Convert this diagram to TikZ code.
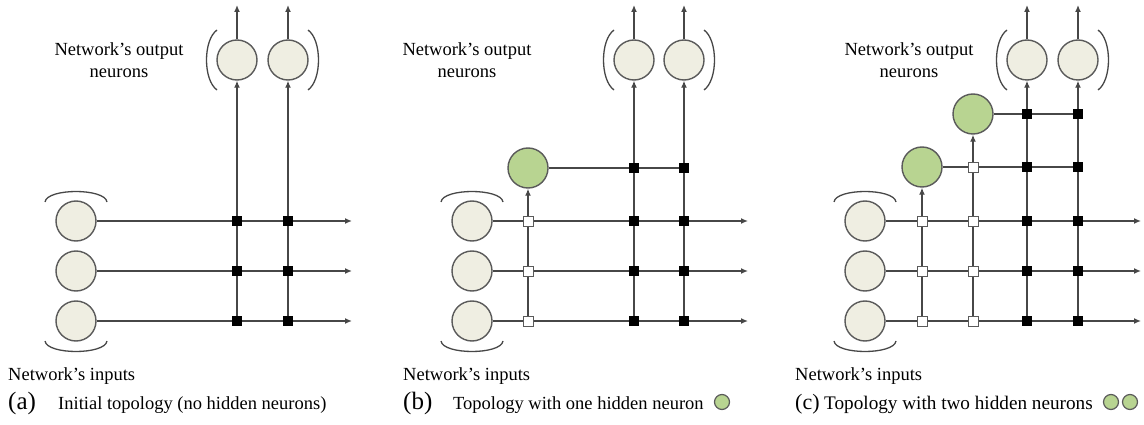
\documentclass[tikz,border=0pt]{standalone}
\usepackage{fontspec}
\setmainfont{Liberation Serif}
\usetikzlibrary{arrows.meta}
\pgfdeclarelayer{wires}
\pgfsetlayers{wires,main}

\definecolor{cream}{HTML}{EFEEE2}
\definecolor{leaf}{HTML}{B8D491}
\definecolor{rim}{HTML}{5A5A5A}
\definecolor{wire}{HTML}{474747}

\tikzset{
  x=1pt, y=-1pt,
  neuron/.style={circle, draw=rim, line width=1.4pt, fill=cream, minimum size=40pt, inner sep=0pt},
  hidden/.style={neuron, fill=leaf},
  minineuron/.style={circle, draw=rim, line width=1.2pt, fill=leaf, minimum size=15pt, inner sep=0pt},
  fixedw/.style={rectangle, fill=black, minimum size=10pt, inner sep=0pt},
  freew/.style={rectangle, draw=rim, line width=0.9pt, fill=white, minimum size=10pt, inner sep=0pt},
  link/.style={draw=wire, line width=1.3pt},
  flow/.style={link, -{Latex[length=7pt,width=6pt]}},
  brace/.style={draw=wire, line width=1.3pt},
  lbl/.style={font=\fontsize{18.5}{22}\selectfont, inner sep=0pt},
  tag/.style={font=\fontsize{25}{28}\selectfont, inner sep=0pt, anchor=base west},
}

\begin{document}
\begin{tikzpicture}
\useasboundingbox (0,0) rectangle (1144,425);

% ---------------- panel (a) ----------------
\begin{scope}[xshift=0pt]
  \node[neuron] (a-i1) at (76,221) {};
  \node[neuron] (a-i2) at (76,271) {};
  \node[neuron] (a-i3) at (76,321) {};
  \node[neuron] (a-o1) at (237,60) {};
  \node[neuron] (a-o2) at (288,60) {};
  \foreach \r/\y in {1/221,2/271,3/321}{
    \coordinate (a-e\r) at (352,\y);
    \node[fixedw] (a-j\r1) at (237,\y) {};
    \node[fixedw] (a-j\r2) at (288,\y) {};
  }
  \coordinate (a-t1) at (237,5);
  \coordinate (a-t2) at (288,5);
  \begin{pgfonlayer}{wires}
    \foreach \r in {1,2,3}{ \draw[flow] (a-i\r) -- (a-e\r); }
    \foreach \c in {1,2}{
      \draw[flow] (a-j3\c.center) -- (a-o\c);
      \draw[flow] (a-o\c) -- (a-t\c);
    }
  \end{pgfonlayer}
  % brackets
  \draw[brace] (45,202) .. controls (47,188) and (105,188) .. (107,202);
  \draw[brace] (45,341) .. controls (47,355) and (105,355) .. (107,341);
  \draw[brace] (217,30) .. controls (203,40) and (203,80) .. (217,90);
  \draw[brace] (308,30) .. controls (322,40) and (322,80) .. (308,90);
  % texts
  \node[lbl, align=center] (a-ol) at (119,60) {Network’s output\\neurons};
  \node[lbl, anchor=base west] (a-il) at (8,380) {Network’s inputs};
  \node[tag] (a-tag) at (8,409) {(a)};
  \node[lbl, anchor=base west] (a-cap) at (58,409) {Initial topology (no hidden neurons)};
\end{scope}

% ---------------- panel (b) ----------------
\begin{scope}[xshift=396pt]
  \node[neuron] (b-i1) at (76,221) {};
  \node[neuron] (b-i2) at (76,271) {};
  \node[neuron] (b-i3) at (76,321) {};
  \node[hidden] (b-h1) at (132,168) {};
  \node[neuron] (b-o1) at (238,60) {};
  \node[neuron] (b-o2) at (288,60) {};
  \foreach \r/\y in {1/221,2/271,3/321}{
    \coordinate (b-e\r) at (352,\y);
    \node[freew] (b-k\r) at (132,\y) {};
    \node[fixedw] (b-j\r1) at (238,\y) {};
    \node[fixedw] (b-j\r2) at (288,\y) {};
  }
  \node[fixedw] (b-jh1) at (238,168) {};
  \node[fixedw] (b-jh2) at (288,168) {};
  \coordinate (b-t1) at (238,5);
  \coordinate (b-t2) at (288,5);
  \begin{pgfonlayer}{wires}
    \foreach \r in {1,2,3}{ \draw[flow] (b-i\r) -- (b-e\r); }
    \draw[flow] (b-k3.center) -- (b-h1);
    \draw[link] (b-h1) -- (b-jh2.center);
    \foreach \c in {1,2}{
      \draw[flow] (b-j3\c.center) -- (b-o\c);
      \draw[flow] (b-o\c) -- (b-t\c);
    }
  \end{pgfonlayer}
  \draw[brace] (45,202) .. controls (47,188) and (105,188) .. (107,202);
  \draw[brace] (45,341) .. controls (47,355) and (105,355) .. (107,341);
  \draw[brace] (218,30) .. controls (204,40) and (204,80) .. (218,90);
  \draw[brace] (308,30) .. controls (322,40) and (322,80) .. (308,90);
  \node[lbl, align=center] (b-ol) at (71,60) {Network’s output\\neurons};
  \node[lbl, anchor=base west] (b-il) at (7,380) {Network’s inputs};
  \node[tag] (b-tag) at (7,409) {(b)};
  \node[lbl, anchor=base west] (b-cap) at (57,409) {Topology with one hidden neuron};
  \node[minineuron] (b-mini) at (326,402) {};
\end{scope}

% ---------------- panel (c) ----------------
\begin{scope}[xshift=789pt]
  \node[neuron] (c-i1) at (76,221) {};
  \node[neuron] (c-i2) at (76,271) {};
  \node[neuron] (c-i3) at (76,321) {};
  \node[hidden] (c-h1) at (133,167) {};
  \node[hidden] (c-h2) at (184,114) {};
  \node[neuron] (c-o1) at (238,60) {};
  \node[neuron] (c-o2) at (289,60) {};
  \foreach \r/\y in {1/221,2/271,3/321}{
    \coordinate (c-e\r) at (352,\y);
    \node[freew] (c-k\r1) at (133,\y) {};
    \node[freew] (c-k\r2) at (184,\y) {};
    \node[fixedw] (c-j\r1) at (238,\y) {};
    \node[fixedw] (c-j\r2) at (289,\y) {};
  }
  \node[freew] (c-kh) at (184,167) {};
  \node[fixedw] (c-jh11) at (238,167) {};
  \node[fixedw] (c-jh12) at (289,167) {};
  \node[fixedw] (c-jh21) at (238,114) {};
  \node[fixedw] (c-jh22) at (289,114) {};
  \coordinate (c-t1) at (238,5);
  \coordinate (c-t2) at (289,5);
  \begin{pgfonlayer}{wires}
    \foreach \r in {1,2,3}{ \draw[flow] (c-i\r) -- (c-e\r); }
    \draw[flow] (c-k31.center) -- (c-h1);
    \draw[flow] (c-k32.center) -- (c-h2);
    \draw[link] (c-h1) -- (c-jh12.center);
    \draw[link] (c-h2) -- (c-jh22.center);
    \foreach \c in {1,2}{
      \draw[flow] (c-j3\c.center) -- (c-o\c);
      \draw[flow] (c-o\c) -- (c-t\c);
    }
  \end{pgfonlayer}
  \draw[brace] (45,202) .. controls (47,188) and (105,188) .. (107,202);
  \draw[brace] (45,341) .. controls (47,355) and (105,355) .. (107,341);
  \draw[brace] (218,30) .. controls (204,40) and (204,80) .. (218,90);
  \draw[brace] (309,30) .. controls (323,40) and (323,80) .. (309,90);
  \node[lbl, align=center] (c-ol) at (120,60) {Network’s output\\neurons};
  \node[lbl, anchor=base west] (c-il) at (6,380) {Network’s inputs};
  \node[tag, font=\fontsize{22}{26}\selectfont] (c-tag) at (6,409) {(c)};
  \node[lbl, anchor=base west, font=\fontsize{19.2}{22}\selectfont] (c-cap) at (35,409) {Topology with two hidden neurons};
  \node[minineuron] (c-mini1) at (322,402) {};
  \node[minineuron] (c-mini2) at (341,402) {};
\end{scope}
\end{tikzpicture}
\end{document}
